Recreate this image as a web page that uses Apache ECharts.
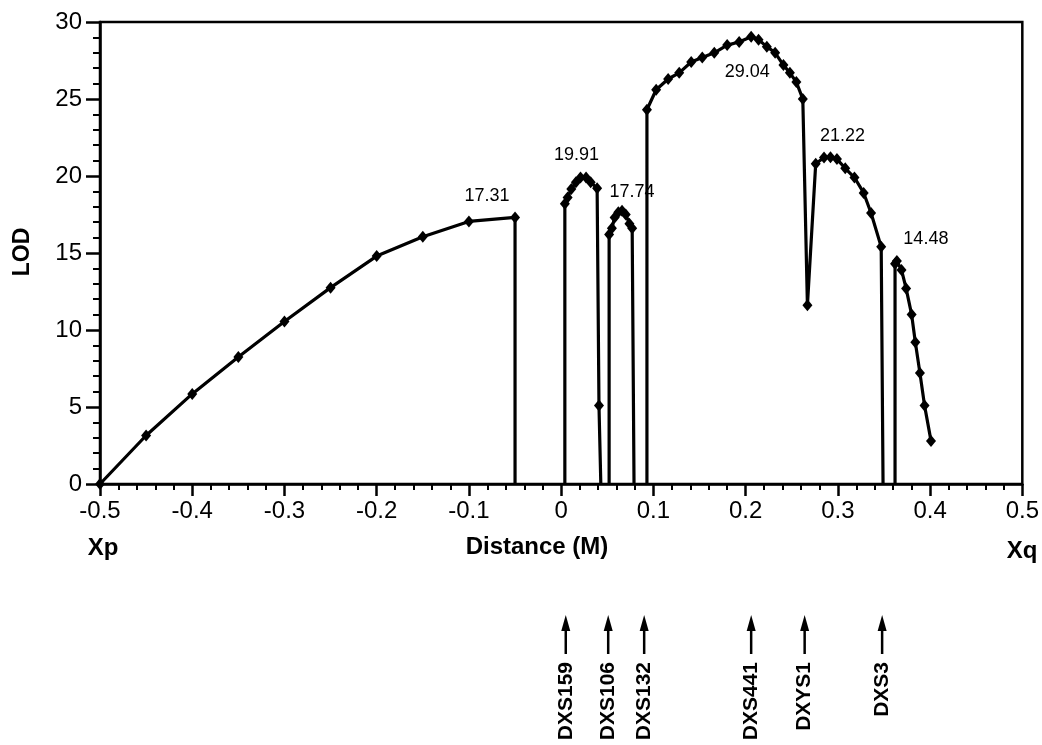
<!DOCTYPE html>
<html>
<head>
<meta charset="utf-8">
<script src="https://cdn.jsdelivr.net/npm/echarts@6/dist/echarts.min.js"></script>
<style>
html,body{margin:0;padding:0;background:#fff;}
#chart{width:1042px;height:745px;}
</style>
</head>
<body>
<div id="chart"></div>
<script>
// ---- data ----
const distance = [
  -0.5, -0.45, -0.4, -0.35, -0.3, -0.25, -0.2, -0.15, -0.1, -0.05, -0.05,
  0.004, 0.004, 0.007, 0.011, 0.016, 0.021, 0.027, 0.032, 0.039, 0.041, 0.043,
  0.052, 0.052, 0.055, 0.058, 0.062, 0.066, 0.070, 0.074, 0.077, 0.079,
  0.093, 0.093, 0.103, 0.116, 0.128, 0.141, 0.153, 0.166, 0.180, 0.193, 0.206, 0.214, 0.223, 0.232, 0.241, 0.248, 0.255, 0.262, 0.267, 0.276, 0.285, 0.292, 0.299, 0.308, 0.318, 0.328, 0.336, 0.347, 0.349,
  0.362, 0.362, 0.364, 0.369, 0.374, 0.380, 0.384, 0.389, 0.394, 0.401
];
const lod = [
  0, 3.15, 5.85, 8.25, 10.55, 12.75, 14.8, 16.05, 17.05, 17.31, 0,
  0, 18.2, 18.6, 19.15, 19.6, 19.91, 19.9, 19.6, 19.2, 5.1, 0,
  0, 16.2, 16.6, 17.3, 17.65, 17.74, 17.5, 16.9, 16.6, 0,
  0, 24.3, 25.6, 26.3, 26.7, 27.4, 27.7, 28.0, 28.5, 28.7, 29.04, 28.85, 28.4, 28.0, 27.2, 26.7, 26.1, 25.0, 11.6, 20.8, 21.2, 21.22, 21.1, 20.5, 19.9, 18.9, 17.6, 15.4, 0,
  0, 14.3, 14.48, 13.9, 12.7, 11.0, 9.2, 7.2, 5.1, 2.8
];
// 1 = plotted diamond, 0 = line drop to the baseline
const measured = [
  1,1,1,1,1,1,1,1,1,1,0,
  0,1,1,1,1,1,1,1,1,1,0,
  0,1,1,1,1,1,1,1,1,0,
  0,1,1,1,1,1,1,1,1,1,1,1,1,1,1,1,1,1,1,1,1,1,1,1,1,1,1,1,0,
  0,1,1,1,1,1,1,1,1,1
];
const segment = [
  1,1,1,1,1,1,1,1,1,1,1,
  2,2,2,2,2,2,2,2,2,2,2,
  3,3,3,3,3,3,3,3,3,3,
  4,4,4,4,4,4,4,4,4,4,4,4,4,4,4,4,4,4,4,4,4,4,4,4,4,4,4,4,4,
  5,5,5,5,5,5,5,5,5,5
];
const peakDist = [-0.05, 0.021, 0.066, 0.206, 0.292, 0.364];
const peakLod = [17.31, 19.91, 17.74, 29.04, 21.22, 14.48];
const markerNames = ['DXS159', 'DXS106', 'DXS132', 'DXS441', 'DXYS1', 'DXS3'];
const markerDist = [0.005, 0.051, 0.090, 0.206, 0.264, 0.348];
const xTicks = [-0.5, 0.5, 0.1];   // min, max, interval
const yTicks = [0, 30, 5];

// ---- build chart ----
const FONT = '"Liberation Sans", Arial, Helvetica, sans-serif';
const chart = echarts.init(document.getElementById('chart'), null, {renderer: 'canvas'});

const segIds = [...new Set(segment)];
const lineSeries = segIds.map(id => {
  const data = [];
  distance.forEach((d, i) => {
    if (segment[i] === id) {
      data.push({value: [d, lod[i]], symbol: measured[i] ? 'diamond' : 'none'});
    }
  });
  return {
    type: 'line',
    data: data,
    symbolSize: [10, 12],
    itemStyle: {color: '#000'},
    lineStyle: {color: '#000', width: 3.2},
    z: 5,
    silent: true,
    animation: false
  };
});

// text offsets (px) of each peak value label from its peak point
const labelOffsets = [[-28, -21], [-4, -22], [10, -19], [-4, 35], [12, -21], [29, -22]];
const peakSeries = {
  type: 'custom',
  clip: false,
  data: peakDist.map((d, i) => [d, peakLod[i]]),
  renderItem: function (params, api) {
    const p = api.coord([api.value(0), api.value(1)]);
    const off = labelOffsets[params.dataIndex];
    return {
      type: 'text',
      x: p[0] + off[0],
      y: p[1] + off[1],
      style: {text: api.value(1).toFixed(2), align: 'center', verticalAlign: 'middle',
              font: '18px ' + FONT, fill: '#000'}
    };
  },
  z: 6,
  animation: false
};

const arrowSeries = {
  type: 'custom',
  clip: false,
  data: markerDist.map(d => [d, 0]),
  renderItem: function (params, api) {
    const p = api.coord([api.value(0), 0]);
    const x = p[0], y0 = p[1];
    return {
      type: 'group',
      children: [
        {type: 'polygon', shape: {points: [[x, y0 + 131], [x - 4.5, y0 + 147], [x + 4.5, y0 + 147]]}, style: {fill: '#000'}},
        {type: 'line', shape: {x1: x, y1: y0 + 144, x2: x, y2: y0 + 170}, style: {stroke: '#000', lineWidth: 2.5}},
        {type: 'text', x: x, y: y0 + 178, rotation: Math.PI / 2,
         style: {text: markerNames[params.dataIndex], align: 'right', verticalAlign: 'middle',
                 font: 'bold 21px ' + FONT, fill: '#000'}}
      ]
    };
  },
  animation: false
};

const option = {
  backgroundColor: '#fff',
  animation: false,
  grid: {left: 100, right: 14, top: 22, bottom: 261, show: true, borderColor: '#000', borderWidth: 2.5, backgroundColor: 'transparent'},
  xAxis: {
    type: 'value', min: xTicks[0], max: xTicks[1], interval: xTicks[2],
    axisLine: {show: true, onZero: false, lineStyle: {color: '#000', width: 2.5}},
    axisTick: {show: true, inside: false, length: 12, lineStyle: {color: '#000', width: 2.5}},
    minorTick: {show: true, splitNumber: 5, length: 6, lineStyle: {color: '#000', width: 2}},
    splitLine: {show: false},
    axisLabel: {color: '#000', fontFamily: FONT, fontSize: 24, margin: 15}
  },
  yAxis: {
    type: 'value', min: yTicks[0], max: yTicks[1], interval: yTicks[2],
    axisLine: {show: true, onZero: false, lineStyle: {color: '#000', width: 2.5}},
    axisTick: {show: true, inside: false, length: 14, lineStyle: {color: '#000', width: 2.5}},
    minorTick: {show: true, splitNumber: 5, length: 7, lineStyle: {color: '#000', width: 2}},
    splitLine: {show: false},
    axisLabel: {color: '#000', fontFamily: FONT, fontSize: 24, margin: 18}
  },
  graphic: [
    {type: 'text', x: 537, y: 547, style: {text: 'Distance (M)', font: 'bold 24px ' + FONT, fill: '#000', align: 'center', verticalAlign: 'middle'}},
    {type: 'text', x: 103, y: 548, style: {text: 'Xp', font: 'bold 24px ' + FONT, fill: '#000', align: 'center', verticalAlign: 'middle'}},
    {type: 'text', x: 1022, y: 551, style: {text: 'Xq', font: 'bold 24px ' + FONT, fill: '#000', align: 'center', verticalAlign: 'middle'}},
    {type: 'text', x: 23, y: 252, rotation: Math.PI / 2, style: {text: 'LOD', font: 'bold 23px ' + FONT, fill: '#000', align: 'center', verticalAlign: 'middle'}}
  ],
  series: [...lineSeries, peakSeries, arrowSeries]
};
chart.setOption(option);
</script>
</body>
</html>
